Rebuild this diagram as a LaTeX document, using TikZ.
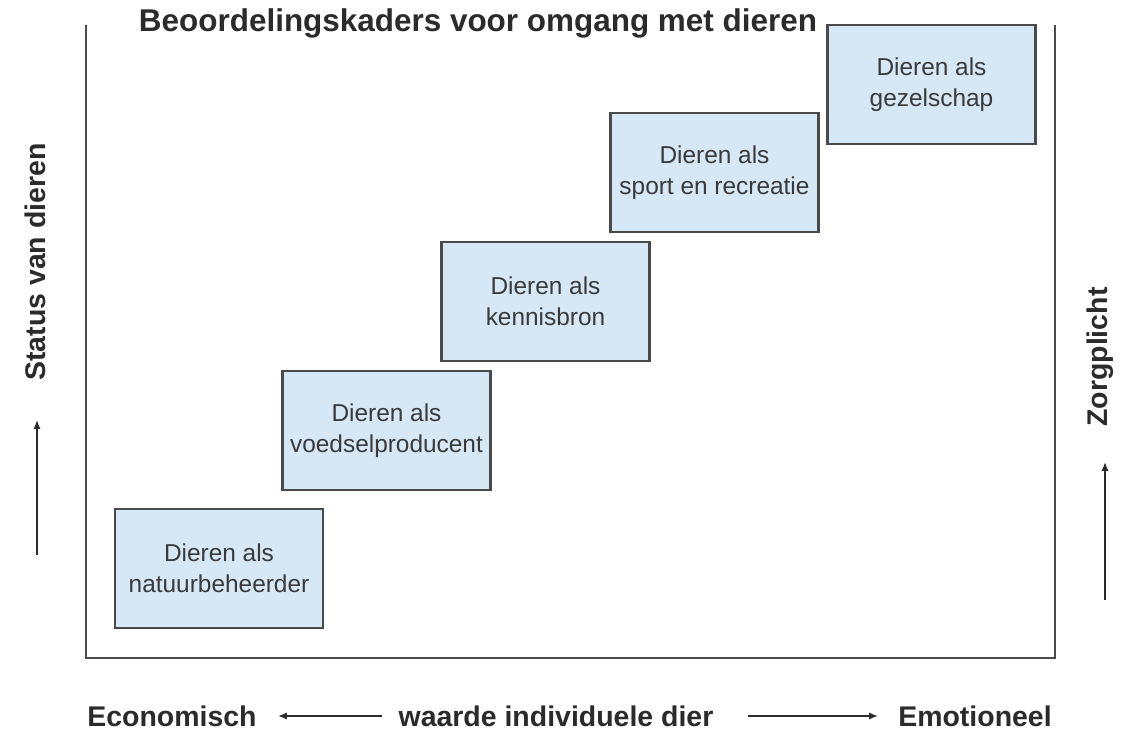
\documentclass[tikz,border=0pt]{standalone}
\usepackage{fontspec}
\setmainfont{Liberation Sans}
\usetikzlibrary{arrows.meta}
\usetikzlibrary{positioning}

\definecolor{boxfill}{HTML}{D6E7F6}
\definecolor{boxline}{HTML}{4A4A4A}
\definecolor{txtgray}{HTML}{3A3A3A}
\definecolor{inkdark}{HTML}{2B2B2B}

\tikzset{
  kader/.style={draw=boxline, fill=boxfill, line width=1.3pt,
    minimum width=4.16cm, minimum height=2.38cm, align=center,
    text=txtgray, font=\fontsize{13.9}{17.5}\selectfont},
  aslabel/.style={text=inkdark, font=\fontsize{16.2}{18}\bfseries\selectfont},
  pijl/.style={draw=inkdark, line width=0.8pt, -{Latex[length=5pt,width=4pt]}}
}

\begin{document}
\begin{tikzpicture}[x=0.02cm, y=-0.02cm]
\useasboundingbox (0,0) rectangle (1126,730);
% frame
\draw[boxline, line width=1pt] (86,25) -- (86,658) -- (1055,658) -- (1055,25);
% title
\node[text=inkdark, font=\fontsize{17.9}{19}\bfseries\selectfont] (titel) at (478,23)
  {Beoordelingskaders voor omgang met dieren};
% frames of assessment
\node[kader] (natuur)  at (219,568.5) {Dieren als\\natuurbeheerder};
\node[kader] (voedsel) at (386.5,430.5) {Dieren als\\voedselproducent};
\node[kader] (kennis)  at (545.5,301.5) {Dieren als\\kennisbron};
\node[kader] (sport)   at (714.5,172.5) {Dieren als\\sport en recreatie};
\node[kader] (gezel)   at (931.5,84.5) {Dieren als\\gezelschap};
% vertical axes
\node[aslabel, rotate=90] (status) at (35,262) {Status van dieren};
\coordinate (s0) at (37,555);
\coordinate (s1) at (37,420);
\draw[pijl] (s0) -- (s1);
\node[aslabel, rotate=90] (zorg) at (1100,357) {Zorgplicht};
\coordinate (z0) at (1105,600);
\coordinate (z1) at (1105,462);
\draw[pijl] (z0) -- (z1);
% horizontal axis
\node[aslabel] (econ)   at (172,716) {Economisch};
\node[aslabel] (waarde) at (556,716) {waarde individuele dier};
\node[aslabel] (emot)   at (975,716) {Emotioneel};
\coordinate (e0) at (382,716);
\coordinate (e1) at (278,716);
\coordinate (m0) at (748,716);
\coordinate (m1) at (878,716);
\draw[pijl] (e0) -- (e1);
\draw[pijl] (m0) -- (m1);
\end{tikzpicture}
\end{document}
